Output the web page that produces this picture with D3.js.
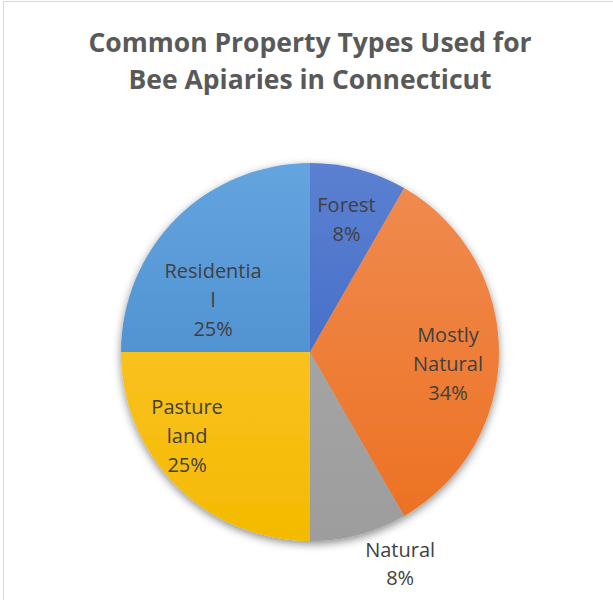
<!DOCTYPE html>
<html>
<head>
<meta charset="utf-8">
<script src="https://cdn.jsdelivr.net/npm/d3@7"></script>
<style>
  html, body { margin: 0; padding: 0; background: #fff; }
  svg { display: block; }
</style>
</head>
<body>
<div id="chart"></div>
<script>
// ---- data ----
const titleLines = ["Common Property Types Used for", "Bee Apiaries in Connecticut"];
const categories = ["Forest", "Mostly Natural", "Natural", "Pasture land", "Residential"];
const values = [8.3, 33.4, 8.3, 25, 25];
const percentLabels = ["8%", "34%", "8%", "25%", "25%"];
const labelLines = [["Forest"], ["Mostly", "Natural"], ["Natural"], ["Pasture", "land"], ["Residentia", "l"]];

// ---- styling ----
const colorTop = ["#5b80d1", "#f08c52", "#ababab", "#ffc83f", "#64a4df"];
const colorBottom = ["#3461c0", "#ec7020", "#9d9d9d", "#f4ba00", "#3f82c6"];
const labelRadius = [130, 130, 210, 130, 130];
const labelOffset = [[3, -7], [8, 12], [36, 9], [-31, -8], [-5, 40]];

const W = 613, H = 600;
const cx = 310, cy = 352, R = 189;
const fs = 20, lh = 28.7;

const svg = d3.select("#chart").append("svg").attr("width", W).attr("height", H);

const defs = svg.append("defs");
const filt = defs.append("filter").attr("id", "shadow")
  .attr("x", "-20%").attr("y", "-20%").attr("width", "140%").attr("height", "140%");
filt.append("feDropShadow").attr("dx", 0).attr("dy", 3).attr("stdDeviation", 4)
  .attr("flood-color", "#000").attr("flood-opacity", 0.45);

categories.forEach((c, i) => {
  const g = defs.append("linearGradient").attr("id", "grad" + i)
    .attr("gradientUnits", "userSpaceOnUse")
    .attr("x1", 0).attr("y1", -R).attr("x2", 0).attr("y2", R);
  g.append("stop").attr("offset", "0%").attr("stop-color", colorTop[i]);
  g.append("stop").attr("offset", "100%").attr("stop-color", colorBottom[i]);
});

// chart border
svg.append("rect").attr("x", 3.5).attr("y", 1.5).attr("width", W + 20).attr("height", H + 20)
  .attr("fill", "none").attr("stroke", "#d9d9d9").attr("stroke-width", 1);

// title
svg.append("g").selectAll("text").data(titleLines).join("text")
  .attr("x", cx)
  .attr("y", (d, i) => 52 + i * 37)
  .attr("text-anchor", "middle")
  .attr("font-family", "'Open Sans', sans-serif")
  .attr("font-weight", "bold")
  .attr("font-size", 26.5)
  .attr("fill", "#595959")
  .text(d => d);

const pie = d3.pie().sort(null).value(d => d)(values);
const arc = d3.arc().innerRadius(0).outerRadius(R);

const g = svg.append("g").attr("transform", `translate(${cx},${cy})`);
const slices = g.append("g").attr("filter", "url(#shadow)");
slices.selectAll("path").data(pie).join("path")
  .attr("d", arc)
  .attr("fill", (d, i) => `url(#grad${i})`);

// labels
pie.forEach((d, i) => {
  const la = d3.arc().innerRadius(labelRadius[i]).outerRadius(labelRadius[i]);
  const [x, y] = la.centroid(d);
  const lx = x + labelOffset[i][0], ly = y + labelOffset[i][1];
  const lines = labelLines[i].concat([percentLabels[i]]);
  const first = ly - (lines.length - 1) * lh / 2 + 0.35 * fs;
  const t = g.append("text")
    .attr("text-anchor", "middle")
    .attr("font-family", "'Open Sans', sans-serif")
    .attr("font-size", fs)
    .attr("fill", "#404040");
  lines.forEach((s, k) => {
    t.append("tspan").attr("x", lx).attr("y", first + k * lh).text(s);
  });
});
</script>
</body>
</html>
